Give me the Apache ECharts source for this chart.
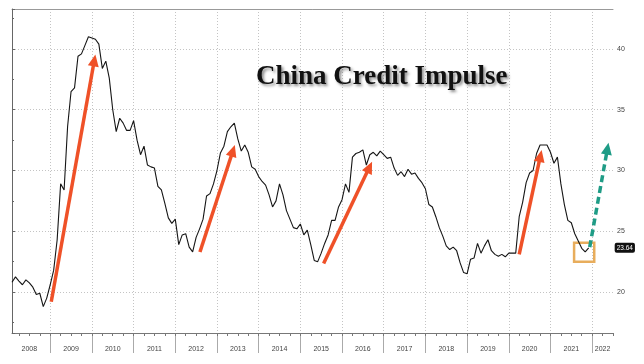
<!DOCTYPE html>
<html>
<head>
<meta charset="utf-8">
<script src="https://cdn.jsdelivr.net/npm/echarts@6/dist/echarts.min.js"></script>
<style>html,body{margin:0;padding:0;background:#fff}#c{width:644px;height:364px}</style>
</head>
<body>
<div id="c"></div>
<script>
// ---- data ----
const startYear = 2008, startMonth = 2, monthCount = 174; // 2008-02 .. 2022-07
const months = [];
for (let k = 0; k < monthCount; k++) {
  const t = startMonth - 1 + k;
  const y = startYear + Math.floor(t / 12), m = (t % 12) + 1;
  months.push(y + '-' + (m < 10 ? '0' + m : m));
}
const years = ['2008','2009','2010','2011','2012','2013','2014','2015','2016','2017','2018','2019','2020','2021','2022'];
const yearLabelMonths = ['2008-07','2009-07','2010-07','2011-07','2012-07','2013-07','2014-07','2015-07','2016-07','2017-07','2018-07','2019-07','2020-07','2021-07','2022-04'];
const quarterMonths = ['01','04','07','10'];
// China credit impulse, monthly from 2008-02 to 2021-12
const impulse = [
  20.8, 21.25, 20.9, 20.6, 21.0, 20.75, 20.4, 19.8, 19.9, 18.8, 19.5,
  20.6, 21.8, 24.3, 28.9, 28.4, 33.6, 36.5, 36.8, 39.4, 39.6, 40.3, 41.0,
  40.9, 40.8, 40.4, 38.4, 39.0, 37.6, 35.0, 33.2, 34.3, 33.9, 33.3, 33.3,
  34.1, 32.5, 31.3, 32.0, 30.45, 30.3, 30.2, 28.7, 28.4, 27.3, 26.1, 25.65,
  26.0, 23.9, 24.7, 24.8, 23.7, 23.3, 24.5, 25.2, 26.0, 27.9, 28.1, 28.9,
  30.0, 31.45, 32.0, 33.2, 33.6, 33.9, 32.6, 31.6, 32.1, 31.5, 30.3, 30.1,
  29.5, 29.1, 28.8, 28.0, 27.0, 27.5, 28.9, 28.0, 26.7, 26.0, 25.3, 25.2,
  25.6, 24.7, 25.1, 23.9, 22.6, 22.5, 23.2, 24.0, 24.7, 25.9, 25.9, 27.0,
  27.6, 28.9, 28.2, 31.1, 31.4, 31.5, 31.7, 30.45, 31.3, 31.5, 31.2, 31.6,
  31.3, 31.0, 31.1, 30.2, 29.6, 29.9, 29.5, 30.1, 29.7, 29.8, 29.35, 29.0,
  28.5, 27.2, 27.0, 26.2, 25.3, 24.6, 23.8, 23.5, 23.7, 23.4, 22.4, 21.6,
  21.5, 22.7, 22.8, 24.0, 23.2, 23.8, 24.3, 23.4, 23.1, 22.95, 23.1, 22.9,
  23.2, 23.2, 23.2, 26.2, 27.4, 29.0, 29.8, 30.0, 31.4, 32.1, 32.1, 32.1,
  31.5, 30.6, 31.1, 28.9, 27.2, 25.9, 25.7, 24.8, 24.2, 23.6, 23.3, 23.64
];
// annotation arrows: [monthIndex, value] start and end
const redArrows = [
  [[11.3, 19.2], [23.7, 39.07]],
  [[54.1, 23.3], [63.6, 31.63]],
  [[89.7, 22.35], [102.9, 30.28]],
  [[146.0, 23.1], [152.1, 31.2]]
];
const greenArrow = [[166.3, 23.7], [171.4, 31.8]];
const boxArea = [[161.8, 22.5], [167.6, 24.06]];
const yMin = 16.63, yMax = 43.29;

// ---- chart ----
const chart = echarts.init(document.getElementById('c'), null, {renderer: 'canvas'});
const isJan = (i, v) => v.slice(5) === '01';
const gridLine = {show: true, lineStyle: {color: '#c4c4c4', type: [1, 2], width: 1}};
const option = {
  animation: false,
  backgroundColor: '#fff',
  title: {
    text: 'China Credit Impulse', left: 251, top: 59,
    textStyle: {
      fontFamily: 'Liberation Serif', fontWeight: 'bold', fontSize: 27, color: '#111',
      textShadowColor: 'rgba(0,0,0,0.45)', textShadowBlur: 3, textShadowOffsetX: 2, textShadowOffsetY: 2
    }
  },
  grid: {left: 12, right: 31, top: 9, bottom: 31, containLabel: false},
  xAxis: [
    {
      type: 'category', data: months, boundaryGap: false, position: 'bottom',
      axisLine: {show: true, lineStyle: {color: '#777', width: 1}},
      axisTick: {show: true, interval: isJan, length: 20, lineStyle: {color: '#aaa'}},
      axisLabel: {
        show: true, interval: (i, v) => yearLabelMonths.indexOf(v) >= 0,
        formatter: v => years[years.indexOf(v.slice(0, 4))],
        fontSize: 7, color: '#444', margin: 13, fontFamily: 'Liberation Sans'
      },
      splitLine: Object.assign({interval: isJan}, gridLine)
    },
    {
      type: 'category', data: months, boundaryGap: false, position: 'bottom',
      axisLine: {show: false},
      axisTick: {show: true, interval: (i, v) => quarterMonths.indexOf(v.slice(5)) >= 0, length: 3, lineStyle: {color: '#777'}},
      axisLabel: {show: false}, splitLine: {show: false}
    },
    {
      type: 'category', data: months, boundaryGap: false, position: 'top',
      axisLine: {show: true, lineStyle: {color: '#999', width: 1}},
      axisTick: {show: false}, axisLabel: {show: false}, splitLine: {show: false}
    },
    {type: 'value', min: 0, max: monthCount - 1, show: false}
  ],
  yAxis: {
    type: 'value', position: 'right', min: yMin, max: yMax, splitNumber: 5,
    axisLine: {show: true, lineStyle: {color: '#666'}},
    axisTick: {show: true, length: 3, lineStyle: {color: '#666'}},
    minorTick: {show: true, splitNumber: 2, length: 2, lineStyle: {color: '#666'}},
    axisLabel: {fontSize: 7, color: '#444', margin: 4, showMinLabel: false, showMaxLabel: false, fontFamily: 'Liberation Sans'},
    splitLine: gridLine
  },
  series: [
    {
      type: 'line', xAxisIndex: 0, data: impulse, showSymbol: false, symbol: 'none',
      lineStyle: {color: '#151515', width: 1.1},
      endLabel: {
        show: true, formatter: p => p.value.toFixed(2), distance: 26,
        backgroundColor: '#111', color: '#fff', fontSize: 6.5, padding: [2, 2, 1, 2], borderRadius: 2,
        fontFamily: 'Liberation Sans'
      },
      z: 3
    },
    {
      type: 'line', xAxisIndex: 3, data: [], silent: true, z: 4,
      markLine: {
        silent: true, symbol: ['none', 'triangle'], symbolSize: [11, 12],
        label: {show: false}, emphasis: {disabled: true},
        lineStyle: {color: '#ef5128', width: 3.5, type: 'solid'},
        data: redArrows.map(a => [{coord: a[0]}, {coord: a[1]}]).concat([
          [{coord: greenArrow[0], lineStyle: {color: '#1f9c86', width: 3.5, type: [7, 4]}},
           {coord: greenArrow[1]}]
        ])
      },
      markArea: {
        silent: true,
        itemStyle: {color: 'rgba(255,255,255,0)', borderColor: '#e8ad5c', borderWidth: 2.5},
        data: [[{coord: boxArea[0]}, {coord: boxArea[1]}]]
      }
    }
  ]
};
chart.setOption(option);
</script>
</body>
</html>
